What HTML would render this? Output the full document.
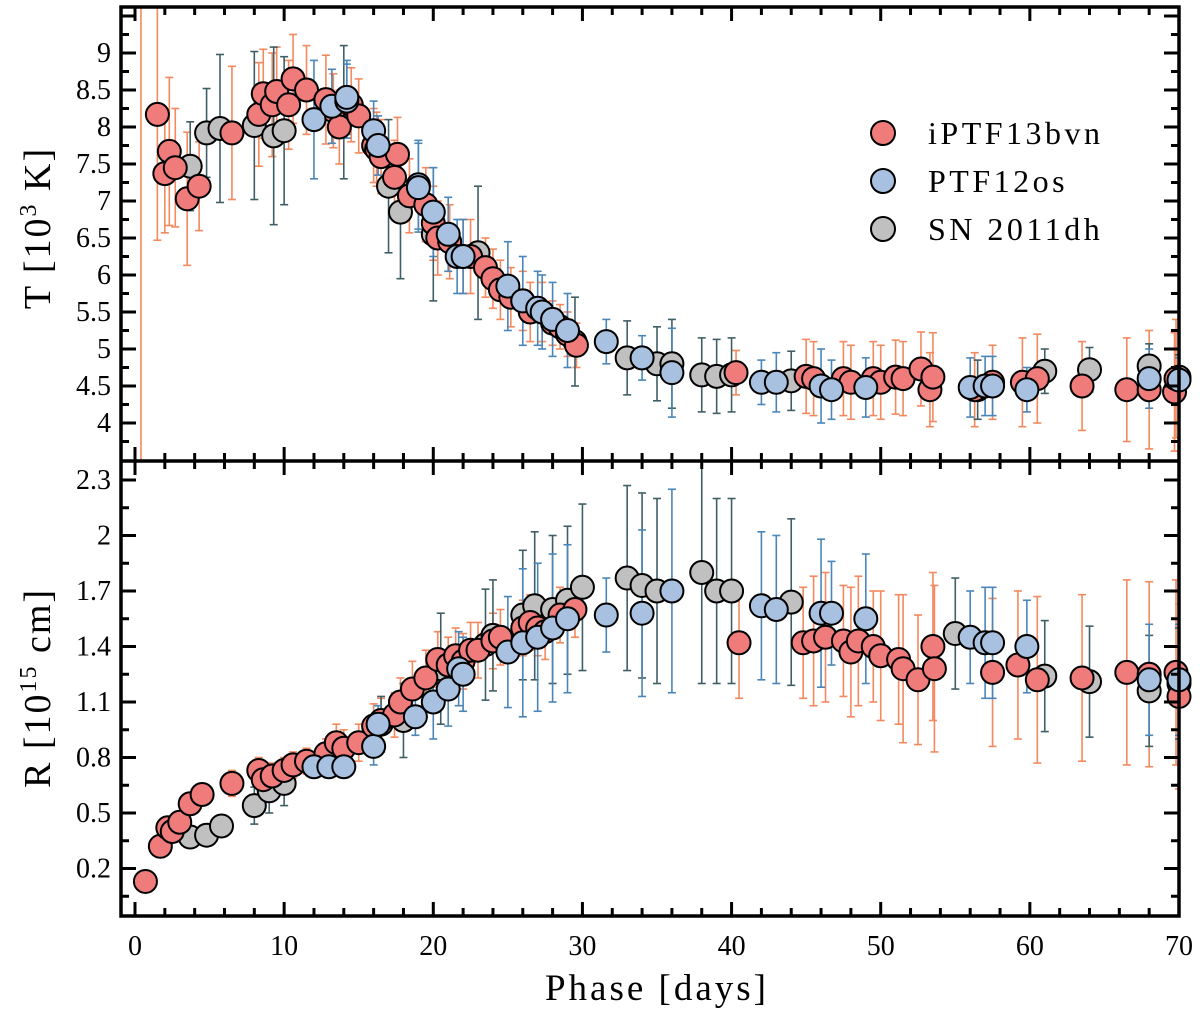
<!DOCTYPE html>
<html><head><meta charset="utf-8"><style>
html,body{margin:0;padding:0;background:#fff;}
svg{display:block;}
svg text{font-family:"Liberation Serif","DejaVu Serif",serif;}
</style></head><body>
<svg id="chart" width="1200" height="1011" viewBox="0 0 1200 1011" xmlns="http://www.w3.org/2000/svg" font-family="Liberation Serif, serif"></svg>
<script>
// ---------- data ----------
const redPhaseT = [0.4,1.5,2,2.3,2.7,3.5,4.3,6.5,8.3,8.6,9.2,9.5,10.3,10.6,11.5,12.8,13.3,13.7,14.5,15,16,16.2,16.5,17.4,17.6,18.4,19.5,20,20.3,21.1,22,22.5,23.5,24,24.5,25.2,26,26.5,27.3,28,28.5,29,29.6,40.3,45,45.5,47.5,48,49.5,50,51,51.5,52.7,53.3,53.5,56.3,57.5,59.5,60.5,63.5,66.5,68,69.7,69.8];
const redT      = [3.0,8.17,7.37,7.67,7.45,7.03,7.2,7.92,8.17,8.45,8.3,8.48,8.3,8.65,8.5,8.37,8.22,8.0,8.3,8.15,7.75,7.7,7.6,7.32,7.63,7.07,6.95,6.7,6.5,6.45,6.25,6.25,6.1,5.95,5.8,5.7,5.65,5.5,5.5,5.35,5.3,5.2,5.05,4.68,4.63,4.6,4.6,4.55,4.6,4.55,4.62,4.6,4.73,4.45,4.62,4.45,4.55,4.55,4.6,4.5,4.45,4.45,4.42,4.6];
const redTErr   = [7,1.7,0.8,1.0,0.8,0.9,0.6,0.9,0.7,0.6,0.7,0.6,0.6,0.6,0.6,0.6,0.5,0.5,0.5,0.5,0.5,0.5,0.5,0.5,0.5,0.5,0.5,0.5,0.5,0.5,0.5,0.5,0.4,0.4,0.4,0.4,0.4,0.4,0.4,0.3,0.3,0.3,0.3,0.3,0.5,0.5,0.5,0.5,0.5,0.5,0.5,0.5,0.5,0.5,0.6,0.5,0.5,0.6,0.6,0.6,0.7,0.8,0.8,0.8];
const bluePhaseT = [12,13.2,14.2,14.2,16,16.3,19,19,20,21,21.6,22,25,26,27,27.3,28,29,31.6,34,36,42,43,46,46.7,49,56,57,57.5,59.8,68,70];
const blueT      = [8.1,8.28,8.35,8.4,7.95,7.75,7.22,7.18,6.85,6.55,6.25,6.25,5.85,5.65,5.55,5.5,5.4,5.25,5.1,4.88,4.68,4.55,4.55,4.5,4.45,4.48,4.48,4.5,4.5,4.45,4.6,4.58];
const blueTErr   = [0.8,0.5,0.5,0.5,0.4,0.4,0.6,0.6,0.6,0.5,0.5,0.5,0.6,0.6,0.5,0.5,0.5,0.5,0.3,0.3,0.6,0.3,0.4,0.5,0.4,0.4,0.4,0.4,0.4,0.3,0.4,0.3];
const greyPhaseT = [3.7,4.8,5.7,8,9.3,10,14,17,17.8,20,23,29.5,33,35,36,38,39,40,44,56.5,61,64,68,70];
const greyT      = [7.47,7.92,7.98,8.02,7.88,7.95,8.2,7.2,6.85,6.55,6.3,5.1,4.88,4.8,4.8,4.65,4.63,4.65,4.57,4.45,4.7,4.72,4.77,4.62];
const greyTErr   = [0.6,0.6,1.0,1.0,1.2,1.0,0.9,0.9,0.9,0.9,0.9,0.6,0.5,0.5,0.6,0.5,0.5,0.5,0.4,0.4,0.3,0.3,0.3,0.3];

const redPhaseR = [0.7,1.7,2.2,2.5,3,3.7,4.5,6.5,8.3,8.6,9.2,10,10.6,11.5,12.8,13.5,14,15,16,16.5,17.4,17.8,18.6,19.5,20.3,21,21.5,22,22.5,23,24,24.5,26,26.5,27,27.5,28.5,29.5,40.5,44.8,45.5,46.3,47.5,48,48.5,49.5,50,51.2,51.5,52.5,53.5,53.6,57.5,59.2,60.5,63.5,66.5,68,69.8,70];
const redR      = [0.13,0.32,0.42,0.4,0.45,0.55,0.6,0.66,0.73,0.68,0.7,0.73,0.76,0.78,0.82,0.88,0.85,0.88,0.97,1.0,1.03,1.1,1.17,1.23,1.33,1.3,1.35,1.32,1.38,1.38,1.43,1.45,1.5,1.53,1.5,1.48,1.57,1.6,1.42,1.42,1.43,1.45,1.43,1.37,1.43,1.4,1.35,1.33,1.28,1.22,1.4,1.28,1.26,1.3,1.22,1.23,1.26,1.25,1.26,1.13];
const redRErr   = [0.05,0.05,0.05,0.05,0.05,0.05,0.05,0.07,0.07,0.07,0.07,0.07,0.07,0.07,0.08,0.1,0.1,0.1,0.12,0.12,0.12,0.13,0.15,0.15,0.15,0.15,0.15,0.15,0.15,0.15,0.15,0.15,0.15,0.15,0.15,0.15,0.15,0.15,0.3,0.3,0.35,0.35,0.3,0.35,0.35,0.3,0.35,0.35,0.4,0.35,0.4,0.45,0.4,0.4,0.45,0.45,0.5,0.5,0.5,0.5];
const bluePhaseR = [12,13,14,16,16.3,18.8,20,21,21.7,22,25,26,27,28,29,31.6,34,36,42,43,46,46.7,49,56,57,57.5,59.8,68,70];
const blueR      = [0.75,0.75,0.75,0.86,0.98,1.02,1.1,1.17,1.28,1.25,1.37,1.42,1.45,1.5,1.55,1.57,1.58,1.7,1.62,1.6,1.58,1.58,1.55,1.45,1.42,1.42,1.4,1.22,1.22];
const blueRErr   = [0.05,0.05,0.05,0.1,0.1,0.1,0.2,0.2,0.2,0.2,0.3,0.4,0.4,0.4,0.4,0.2,0.45,0.55,0.4,0.4,0.4,0.28,0.35,0.25,0.3,0.3,0.25,0.3,0.3];
const greyPhaseR = [3.7,4.8,5.8,8,9,10,16.5,18,20.5,23.5,24,26,26.8,28,29,30,33,34,35,38,39,40,44,55,61,64,68,70];
const greyR      = [0.37,0.38,0.43,0.54,0.62,0.66,0.98,1.0,1.28,1.41,1.46,1.57,1.62,1.6,1.65,1.72,1.77,1.73,1.7,1.8,1.7,1.7,1.64,1.47,1.24,1.21,1.16,1.2];
const greyRErr   = [0.05,0.05,0.06,0.1,0.12,0.12,0.15,0.2,0.3,0.3,0.3,0.35,0.4,0.4,0.4,0.45,0.5,0.5,0.5,0.6,0.5,0.5,0.45,0.3,0.3,0.3,0.3,0.3];

const xTicks = [0,10,20,30,40,50,60,70];
const tTicks = [4,4.5,5,5.5,6,6.5,7,7.5,8,8.5,9];
const tTickLabels = ["4","4.5","5","5.5","6","6.5","7","7.5","8","8.5","9"];
const rTicks = [0.2,0.5,0.8,1.1,1.4,1.7,2.0,2.3];
const rTickLabels = ["0.2","0.5","0.8","1.1","1.4","1.7","2","2.3"];

// ---------- scales ----------
const L=121, Rt=1179, TOP=7, MID=461, BOT=916;
const xS = d => 135 + d*(1179-135)/70;
const yT = t => 423 - (t-4)*74;
const yR = r => 591 - (r-1.7)*185;
const FONT = '"Liberation Serif", "DejaVu Serif", serif';

const svg = document.getElementById('chart');
const NS='http://www.w3.org/2000/svg';
function mk(tag, attrs, parent){const e=document.createElementNS(NS,tag);for(const k in attrs)e.setAttribute(k,attrs[k]);(parent||svg).appendChild(e);return e;}

const defs = mk('defs',{});
const cp1 = mk('clipPath',{id:'c1'},defs); mk('rect',{x:L,y:TOP,width:Rt-L,height:MID-TOP},cp1);
const cp2 = mk('clipPath',{id:'c2'},defs); mk('rect',{x:L,y:MID,width:Rt-L,height:BOT-MID},cp2);

const COL = {red:{fill:'#ef7b7b',err:'#f4895f'},blue:{fill:'#a9c1e1',err:'#4a86b8'},grey:{fill:'#c0c0c0',err:'#3f5f66'}};

function drawSeries(g, name, xs, ys, es, ys_fn, col){
  const eg = mk('g',{'clip-path':g},svg);
  
  
  xs.forEach((x,i)=>{
    const cx=xS(x), y1=ys_fn(ys[i]-es[i]), y2=ys_fn(ys[i]+es[i]);
    mk('line',{x1:cx,x2:cx,y1:y1,y2:y2,stroke:col.err,'stroke-width':1.6},eg);
    mk('line',{x1:cx-4,x2:cx+4,y1:y1,y2:y1,stroke:col.err,'stroke-width':1.6},eg);
    mk('line',{x1:cx-4,x2:cx+4,y1:y2,y2:y2,stroke:col.err,'stroke-width':1.6},eg);
  });
}
function drawPoints(name, xs, ys, ys_fn, col, ymin, ymax){
  const pg = mk('g',{});
  
  
  xs.forEach((x,i)=>{
    const cy=ys_fn(ys[i]); if(cy<ymin||cy>ymax) return;
    const c = mk('circle',{cx:xS(x),cy:cy,r:11.5,fill:col.fill,stroke:'#000','stroke-width':2},pg);
    
    
  });
}

drawSeries('url(#c1)','iptf13bvn-t',redPhaseT,redT,redTErr,yT,COL.red);
drawSeries('url(#c1)','sn2011dh-t',greyPhaseT,greyT,greyTErr,yT,COL.grey);
drawSeries('url(#c1)','ptf12os-t',bluePhaseT,blueT,blueTErr,yT,COL.blue);
drawPoints('sn2011dh-t',greyPhaseT,greyT,yT,COL.grey,TOP,MID);
drawPoints('iptf13bvn-t',redPhaseT,redT,yT,COL.red,TOP,MID);
drawPoints('ptf12os-t',bluePhaseT,blueT,yT,COL.blue,TOP,MID);
drawSeries('url(#c2)','iptf13bvn-r',redPhaseR,redR,redRErr,yR,COL.red);
drawSeries('url(#c2)','sn2011dh-r',greyPhaseR,greyR,greyRErr,yR,COL.grey);
drawSeries('url(#c2)','ptf12os-r',bluePhaseR,blueR,blueRErr,yR,COL.blue);
drawPoints('sn2011dh-r',greyPhaseR,greyR,yR,COL.grey,MID,BOT);
drawPoints('iptf13bvn-r',redPhaseR,redR,yR,COL.red,MID,BOT);
drawPoints('ptf12os-r',bluePhaseR,blueR,yR,COL.blue,MID,BOT);

const fr = mk('g',{stroke:'#000',fill:'none'});


mk('rect',{x:L,y:TOP,width:Rt-L,height:BOT-TOP,'stroke-width':3.5},fr);
mk('line',{x1:L,x2:Rt,y1:MID,y2:MID,'stroke-width':3.5},fr);

const tk = mk('g',{stroke:'#000','stroke-width':3});


for(let d=0; d<=70; d+=2){
  const x=xS(d), major = d%10===0, len = major?14:8;
  [TOP,BOT].forEach(yb=>{ const s = yb===TOP?1:-1; mk('line',{x1:x,x2:x,y1:yb,y2:yb+s*len},tk); });
  mk('line',{x1:x,x2:x,y1:MID-len,y2:MID+len},tk);
}
for(let t=3.75; t<=9.6; t+=0.25){
  const y=yT(t); if(y<TOP+2||y>MID-2) continue;
  const major = Math.abs(t*2-Math.round(t*2))<1e-6, len=major?15:8;
  mk('line',{x1:L,x2:L+len,y1:y,y2:y},tk); mk('line',{x1:Rt,x2:Rt-len,y1:y,y2:y},tk);
}
for(let k=-2; k<=15; k++){
  const r=0.2+k*0.15, y=yR(r); if(y<MID+2||y>BOT-2) continue;
  const len = k%2===0?15:8;
  mk('line',{x1:L,x2:L+len,y1:y,y2:y},tk); mk('line',{x1:Rt,x2:Rt-len,y1:y,y2:y},tk);
}

const lab = mk('g',{'font-size':28,fill:'#000','font-family':FONT});


xTicks.forEach(d=>{ const t=mk('text',{x:xS(d),y:955,'text-anchor':'middle'},lab); t.textContent=String(d); });
tTicks.forEach((v,i)=>{ const t=mk('text',{x:111,y:yT(v)+9,'text-anchor':'end'},lab); t.textContent=tTickLabels[i]; });
rTicks.forEach((v,i)=>{ const t=mk('text',{x:111,y:yR(v)+9,'text-anchor':'end'},lab); t.textContent=rTickLabels[i]; });

const xt = mk('text',{x:657,y:1000,'text-anchor':'middle','font-size':37,'letter-spacing':3,'font-family':FONT});


xt.textContent='Phase [days]';
const yt1 = mk('text',{x:0,y:0,'text-anchor':'middle','font-size':38,'letter-spacing':2,'font-family':FONT,transform:'translate(50,228) rotate(-90)'});


yt1.innerHTML='T [10<tspan dy="-14" font-size="24">3</tspan><tspan dy="14"> K]</tspan>';
const yt2 = mk('text',{x:0,y:0,'text-anchor':'middle','font-size':38,'letter-spacing':2,'font-family':FONT,transform:'translate(50,688) rotate(-90)'});


yt2.innerHTML='R [10<tspan dy="-14" font-size="24">15</tspan><tspan dy="14"> cm]</tspan>';

const lg = mk('g',{'font-family':FONT});


const legNames=['iPTF13bvn','PTF12os','SN 2011dh'], legCols=[COL.red,COL.blue,COL.grey];
legNames.forEach((n,i)=>{
  const y=133+i*48;
  const c=mk('circle',{cx:883,cy:y,r:12,fill:legCols[i].fill,stroke:'#000','stroke-width':2},lg);
  
  
  const t=mk('text',{x:928,y:y+11,'font-size':32,'letter-spacing':3.5},lg);
  
  
  t.textContent=n;
});
</script>
</body></html>
